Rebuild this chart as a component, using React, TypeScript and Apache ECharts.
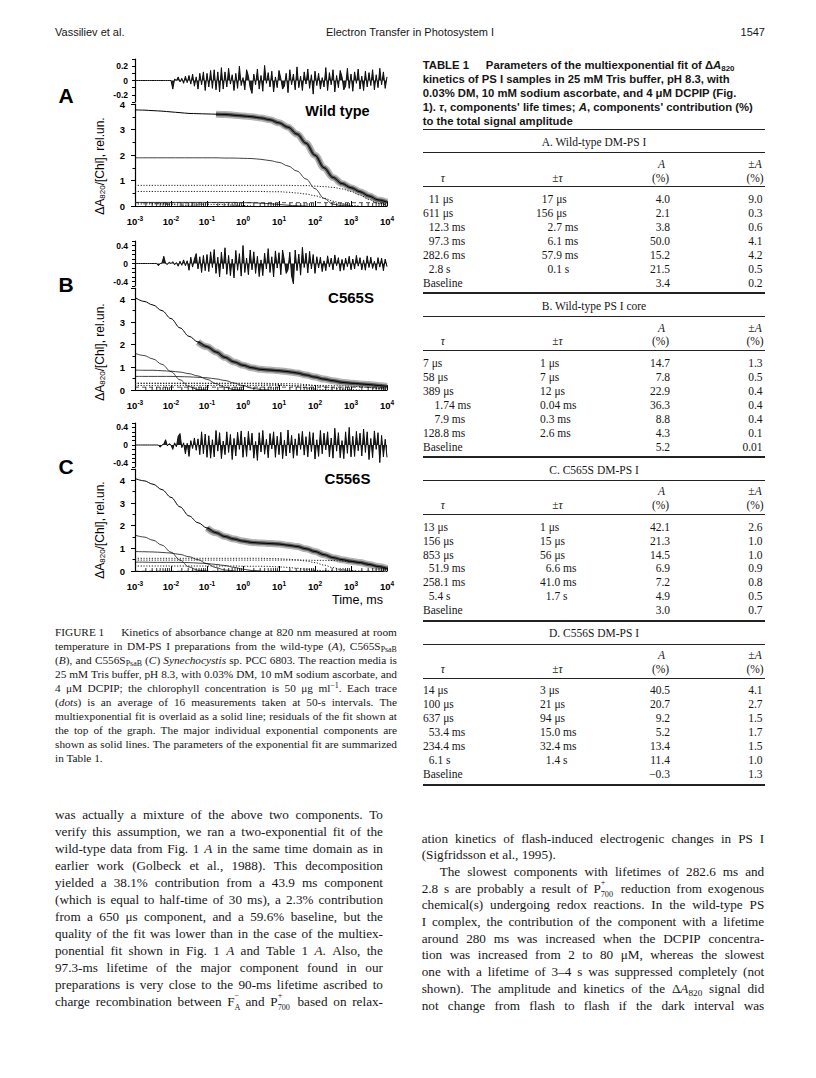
import React, { useEffect, useRef } from 'react';
import * as echarts from 'echarts';

const SANS = '"Liberation Sans", Arial, Helvetica, sans-serif';
const SERIF = '"Liberation Serif", "Times New Roman", Times, serif';

// ---------- axis ticks ----------
const xDecades = [-3, -2, -1, 0, 1, 2, 3, 4]; // log10(time, ms)
const minorFactors = [2, 3, 4, 5, 6, 7, 8, 9];

// ---------- Panel A (wild type) : samples every 0.25 decade from 1e-3 ms ----------
const fitA = [3.77, 3.76, 3.74, 3.72, 3.69, 3.66, 3.63, 3.62, 3.61, 3.60, 3.59, 3.56, 3.53, 3.50, 3.45, 3.38, 3.26, 3.09, 2.82, 2.46, 1.99, 1.50, 1.12, 0.88, 0.72, 0.56, 0.39, 0.24, 0.15];
const majorA = [1.89, 1.89, 1.89, 1.89, 1.89, 1.89, 1.89, 1.89, 1.89, 1.89, 1.88, 1.88, 1.87, 1.86, 1.83, 1.78, 1.71, 1.57, 1.37, 1.06, 0.68, 0.30, 0.07, 0.01, 0];
const smallA = [0.14, 0.14, 0.14, 0.14, 0.14, 0.14, 0.14, 0.14, 0.14, 0.14, 0.14, 0.14, 0.13, 0.13, 0.11, 0.09, 0.06, 0.03, 0.01, 0];
const fastA1 = [0.14, 0.13, 0.11, 0.09, 0.06, 0.03, 0.01, 0];
const fastA2 = [0.08, 0.08, 0.08, 0.08, 0.08, 0.08, 0.08, 0.07, 0.07, 0.06, 0.05, 0.03, 0.02, 0];
const midA = [0.57, 0.57, 0.57, 0.57, 0.57, 0.57, 0.57, 0.57, 0.57, 0.57, 0.57, 0.57, 0.57, 0.57, 0.57, 0.56, 0.56, 0.54, 0.51, 0.47, 0.40, 0.31, 0.19, 0.08, 0.02, 0];
const slowA = [0.81, 0.81, 0.81, 0.81, 0.81, 0.81, 0.81, 0.81, 0.81, 0.81, 0.81, 0.81, 0.81, 0.81, 0.81, 0.81, 0.81, 0.81, 0.80, 0.80, 0.78, 0.76, 0.73, 0.67, 0.57, 0.43, 0.26, 0.11, 0.02];
const baseA = 0.13;
// residuals: samples every 0.05 decade from 1e-3 ms
const residA = [0, 0, 0, 0, 0, 0, 0, 0, 0, 0, 0, 0, 0, 0, 0, 0, 0, 0, 0, 0, 0,
  -0.12, 0.02, 0, 0.05, -0.02, 0.03, -0.04, 0.06, -0.03, 0.07, -0.05, 0.09, -0.08, 0.05, -0.12, 0.1, -0.06, 0.12, -0.14, 0.1, -0.09, 0.14, -0.11, 0.15, -0.13, 0.12, -0.16, 0.18, -0.12,
  0.12, -0.09, 0.17, -0.05, 0.08, -0.14, 0.1, -0.11, 0.2, -0.07,
  0.04, -0.13, 0.15, 0.06, -0.1, -0.18, 0.09, -0.06, 0.16, -0.12,
  0.07, -0.15, 0.21, -0.04, 0.11, -0.09, 0.13, -0.16, 0.05, -0.1,
  0.14, 0.03, -0.12, -0.08, 0.1, -0.17, 0.15, -0.06, 0.09, -0.13,
  0.19, -0.1, 0.06, -0.14, 0.12, -0.05, 0.16, -0.11, 0.08, -0.19,
  0.13, -0.07, 0.1, -0.12, 0.04, -0.09, 0.18, -0.14, 0.11, -0.06,
  0.15, -0.16, 0.07, -0.1, 0.14, 0.05, -0.13, -0.08, 0.17, -0.11,
  0.09, -0.15, 0.12, -0.04, 0.16, -0.12, 0.06, -0.14, 0.13, -0.09,
  0.11, -0.07, 0.15, -0.13, 0.08, -0.1, 0.17, -0.06, 0.12, -0.11,
  0.05];

// ---------- Panel B (C565S) ----------
const fitB = [4.08, 3.91, 3.75, 3.50, 3.15, 2.74, 2.37, 2.12, 1.91, 1.68, 1.44, 1.24, 1.09, 0.98, 0.91, 0.88, 0.85, 0.81, 0.75, 0.66, 0.57, 0.48, 0.41, 0.34, 0.30, 0.27, 0.24, 0.20, 0.16];
const fastB1 = [1.62, 1.52, 1.37, 1.13, 0.81, 0.45, 0.15, 0.02, 0];
const fastB2 = [0.88, 0.87, 0.87, 0.85, 0.83, 0.79, 0.72, 0.62, 0.47, 0.28, 0.12, 0.02, 0];
const fastB3 = [0.60, 0.60, 0.60, 0.60, 0.60, 0.59, 0.58, 0.56, 0.54, 0.49, 0.42, 0.31, 0.19, 0.08, 0.02, 0];
const midB1 = [0.29, 0.29, 0.29, 0.29, 0.29, 0.29, 0.29, 0.29, 0.29, 0.29, 0.28, 0.28, 0.28, 0.28, 0.27, 0.26, 0.24, 0.20, 0.16, 0.10, 0.04, 0.01, 0];
const midB2 = [0.30, 0.30, 0.30, 0.30, 0.30, 0.30, 0.30, 0.30, 0.30, 0.30, 0.30, 0.30, 0.30, 0.30, 0.30, 0.29, 0.29, 0.28, 0.27, 0.24, 0.20, 0.15, 0.09, 0.03, 0.01, 0];
const slowB = [0.20, 0.20, 0.20, 0.20, 0.20, 0.20, 0.20, 0.20, 0.20, 0.20, 0.20, 0.20, 0.20, 0.20, 0.20, 0.20, 0.20, 0.20, 0.20, 0.20, 0.20, 0.20, 0.19, 0.18, 0.17, 0.15, 0.11, 0.07, 0.03];
const baseB = 0.125;
const residB = [0, 0, 0, 0, 0, 0, 0, 0, 0, 0, 0, 0, 0,
  -0.05, 0, 0.01, 0.16, 0, -0.02, 0.03, 0, 0.04, -0.03, 0.02, -0.06, 0.05, -0.04, 0.08, -0.05, 0.06, -0.15, 0.14, -0.08, 0.1, 0.22, -0.12, 0.15, -0.2, 0.18, -0.16, 0.2,
  -0.18, 0.26, -0.09, 0.31, -0.22, 0.14, -0.3, 0.25, -0.12, 0.35,
  -0.24, 0.18, -0.27, 0.1, -0.32, 0.29, -0.15, 0.22, -0.28, 0.4,
  -0.2, 0.12, -0.25, 0.3, -0.14,
  0.26, -0.22, 0.16, -0.29, 0.08, -0.27, 0.23, -0.12, 0.33, -0.2,
  0.15, -0.3, 0.28, -0.1, 0.24, -0.25, 0.3, 0.06, -0.22, -0.14,
  0.25, -0.28, -0.45, 0.3, -0.16, 0.21, -0.26, 0.36, -0.09, 0.23,
  -0.21, 0.27, -0.12, 0.2, -0.22,
  0.15, -0.1, 0.14, -0.18, 0.06, -0.16, 0.17, -0.08, 0.12, -0.14,
  0.19, -0.05, 0.13, -0.17, 0.09, -0.15, 0.12, -0.07, 0.16, -0.14,
  0.1, -0.12, 0.18, -0.06, 0.13, -0.14, 0.08, -0.15, 0.17, -0.09,
  0.14, -0.11, 0.05, -0.15, 0.13, -0.08, 0.12, -0.16, 0.1, -0.07];

// ---------- Panel C (C556S) ----------
const fitC = [4.08, 3.98, 3.83, 3.59, 3.25, 2.83, 2.43, 2.13, 1.90, 1.69, 1.52, 1.41, 1.32, 1.26, 1.23, 1.21, 1.19, 1.14, 1.08, 0.98, 0.86, 0.72, 0.59, 0.50, 0.43, 0.37, 0.29, 0.20, 0.11];
const fastC1 = [1.58, 1.50, 1.36, 1.14, 0.83, 0.48, 0.18, 0.03, 0];
const fastC2 = [0.86, 0.85, 0.84, 0.82, 0.79, 0.73, 0.63, 0.50, 0.32, 0.15, 0.04, 0];
const fastC3 = [0.39, 0.39, 0.38, 0.38, 0.38, 0.38, 0.37, 0.35, 0.33, 0.29, 0.24, 0.16, 0.08, 0.02, 0];
const midC1 = [0.22, 0.22, 0.22, 0.22, 0.22, 0.22, 0.22, 0.22, 0.22, 0.22, 0.22, 0.22, 0.21, 0.21, 0.21, 0.20, 0.18, 0.16, 0.12, 0.08, 0.03, 0.01, 0];
const midC2 = [0.56, 0.56, 0.56, 0.56, 0.56, 0.56, 0.56, 0.56, 0.56, 0.56, 0.56, 0.56, 0.56, 0.56, 0.56, 0.55, 0.54, 0.52, 0.49, 0.44, 0.37, 0.26, 0.15, 0.05, 0.01, 0];
const slowC = [0.48, 0.48, 0.48, 0.48, 0.48, 0.48, 0.48, 0.48, 0.48, 0.48, 0.48, 0.48, 0.48, 0.48, 0.48, 0.48, 0.48, 0.48, 0.48, 0.48, 0.47, 0.47, 0.46, 0.44, 0.41, 0.36, 0.29, 0.19, 0.09];
const baseC = -0.01;
const residC = [0, 0, 0, 0, 0, 0, 0, 0, 0, 0, 0, 0, 0, 0,
  -0.05, 0, 0.02, 0.12, -0.02, 0.03, 0, -0.1, 0.05, -0.04, 0.2, 0.26, -0.06, 0.05, -0.2, 0.04, -0.26, 0.1, -0.08, 0.16, -0.12, 0.14, -0.22, 0.3, -0.2, 0.25, -0.28,
  0.21, -0.3, 0.12, -0.27, 0.33, -0.14, 0.28, -0.31, 0.09, -0.22,
  0.3, -0.17, 0.24, -0.33, 0.15, -0.25, 0.29, -0.1, 0.32, -0.28,
  0.18, -0.26, 0.31, -0.12, 0.27, -0.3, 0.08, -0.35, 0.28, -0.16,
  0.33, -0.21, 0.13, -0.29, 0.26, -0.09, 0.3, -0.28, 0.2, -0.22,
  0.29, -0.31, 0.11, -0.25, 0.34, -0.18, 0.22, -0.3, 0.14, -0.24,
  0.26, -0.1, 0.31, -0.23, 0.19, -0.27, 0.3, -0.15, 0.28, -0.32,
  0.12, -0.26, 0.33, -0.2, 0.27, -0.11, 0.3, -0.27, 0.16, -0.3,
  0.38, -0.14, 0.28, -0.29, 0.1, -0.31, 0.3, -0.19, 0.4, -0.27,
  0.2, -0.26, 0.31, -0.13, 0.27, -0.25, 0.36, -0.17, 0.3, -0.33,
  0.15, -0.29, 0.32, -0.1, 0.28, -0.4, 0.22, -0.27, 0.13, -0.28];

// ---------- Table 1 ----------
const tableSections = [
  { title: 'A. Wild-type DM-PS I', dtLeft: 536,
    tau: ['\u200711 μs', '611 μs', '\u200712.3 ms', '\u200797.3 ms', '282.6 ms', '\u20072.8 s', 'Baseline'],
    dtau: ['\u200717 μs', '156 μs', '\u2007\u20072.7 ms', '\u2007\u20076.1 ms', '\u200757.9 ms', '\u2007\u20070.1 s', ''],
    amp: ['4.0', '2.1', '3.8', '50.0', '15.2', '21.5', '3.4'],
    damp: ['9.0', '0.3', '0.6', '4.1', '4.2', '0.5', '0.2'] },
  { title: 'B. Wild-type PS I core', dtLeft: 540,
    tau: ['7 μs', '58 μs', '389 μs', '\u2007\u20071.74 ms', '\u2007\u20077.9 ms', '128.8 ms', 'Baseline'],
    dtau: ['1 μs', '7 μs', '12 μs', '0.04 ms', '0.3 ms', '2.6 ms', ''],
    amp: ['14.7', '7.8', '22.9', '36.3', '8.8', '4.3', '5.2'],
    damp: ['1.3', '0.5', '0.4', '0.4', '0.4', '0.1', '0.01'] },
  { title: 'C. C565S DM-PS I', dtLeft: 540,
    tau: ['13 μs', '156 μs', '853 μs', '\u200751.9 ms', '258.1 ms', '\u20075.4 s', 'Baseline'],
    dtau: ['1 μs', '15 μs', '56 μs', '\u20076.6 ms', '41.0 ms', '\u20071.7 s', ''],
    amp: ['42.1', '21.3', '14.5', '6.9', '7.2', '4.9', '3.0'],
    damp: ['2.6', '1.0', '1.0', '0.9', '0.8', '0.5', '0.7'] },
  { title: 'D. C556S DM-PS I', dtLeft: 540,
    tau: ['14 μs', '100 μs', '637 μs', '\u200753.4 ms', '234.4 ms', '\u20076.1 s', 'Baseline'],
    dtau: ['3 μs', '21 μs', '94 μs', '15.0 ms', '32.4 ms', '\u20071.4 s', ''],
    amp: ['40.5', '20.7', '9.2', '5.2', '13.4', '11.4', '−0.3'],
    damp: ['4.1', '2.7', '1.5', '1.7', '1.5', '1.0', '1.3'] },
];

const tableTitle = [
  'TABLE\u00a01\u2003\u2002Parameters of the multiexponential fit of Δ*A*_{820}',
  'kinetics of PS I samples in 25 mM Tris buffer, pH 8.3, with',
  '0.03% DM, 10 mM sodium ascorbate, and 4 μM DCPIP (Fig.',
  "1). *τ*, components' life times; *A*, components' contribution (%)",
  'to the total signal amplitude',
];

const caption = [
  'FIGURE\u00a01\u2003\u2002Kinetics of absorbance change at 820 nm measured at room',
  'temperature in DM-PS I preparations from the wild-type (*A*), C565S_{PsaB}',
  '(*B*), and C556S_{PsaB} (*C*) *Synechocystis* sp. PCC 6803. The reaction media is',
  '25 mM Tris buffer, pH 8.3, with 0.03% DM, 10 mM sodium ascorbate, and',
  '4 μM DCPIP; the chlorophyll concentration is 50 μg ml^{−1}. Each trace',
  '(*dots*) is an average of 16 measurements taken at 50-s intervals. The',
  'multiexponential fit is overlaid as a solid line; residuals of the fit shown at',
  'the top of the graph. The major individual exponential components are',
  'shown as solid lines. The parameters of the exponential fit are summarized',
  'in Table 1.',
];

const leftBody = [
  'was actually a mixture of the above two components. To',
  'verify this assumption, we ran a two-exponential fit of the',
  'wild-type data from Fig. 1 *A* in the same time domain as in',
  'earlier work (Golbeck et al., 1988). This decomposition',
  'yielded a 38.1% contribution from a 43.9 ms component',
  '(which is equal to half-time of 30 ms), a 2.3% contribution',
  'from a 650 μs component, and a 59.6% baseline, but the',
  'quality of the fit was lower than in the case of the multiex-',
  'ponential fit shown in Fig. 1 *A* and Table 1 *A*. Also, the',
  '97.3-ms lifetime of the major component found in our',
  'preparations is very close to the 90-ms lifetime ascribed to',
  'charge recombination between F@{−|A} and P@{+|700} based on relax-',
];

const rightBody = [
  'ation kinetics of flash-induced electrogenic changes in PS I',
  '(Sigfridsson et al., 1995).',
  'The slowest components with lifetimes of 282.6 ms and',
  '2.8 s are probably a result of P@{+|700} reduction from exogenous',
  'chemical(s) undergoing redox reactions. In the wild-type PS',
  'I complex, the contribution of the component with a lifetime',
  'around 280 ms was increased when the DCPIP concentra-',
  'tion was increased from 2 to 80 μM, whereas the slowest',
  'one with a lifetime of 3–4 s was suppressed completely (not',
  'shown). The amplitude and kinetics of the Δ*A*_{820} signal did',
  'not change from flash to flash if the dark interval was',
];

// ---------- text helpers ----------
function richNodes(s: string, st: { it: boolean }, kb: string) {
  const parts = s.split(/(\*|_\{[^}]*\}|\^\{[^}]*\}|@\{[^}]*\})/).filter((p) => p !== '');
  const out: any[] = [];
  parts.forEach((p, i) => {
    const k = kb + '-' + i;
    if (p === '*') { st.it = !st.it; return; }
    const base: any = st.it ? { fontStyle: 'italic' } : {};
    if (p.startsWith('_{')) out.push(<span key={k} style={{ ...base, fontSize: '0.7em', position: 'relative', top: '0.3em', lineHeight: 0 }}>{p.slice(2, -1)}</span>);
    else if (p.startsWith('^{')) out.push(<span key={k} style={{ ...base, fontSize: '0.7em', position: 'relative', top: '-0.45em', lineHeight: 0 }}>{p.slice(2, -1)}</span>);
    else if (p.startsWith('@{')) {
      const [a, b] = p.slice(2, -1).split('|');
      const w = Math.max(a.length, b.length) * 0.34 + 0.05;
      out.push(
        <span key={k} style={{ position: 'relative', display: 'inline-block', width: w + 'em', height: '0.7em' }}>
          <span style={{ position: 'absolute', left: 0, top: '-0.55em', fontSize: '0.62em', lineHeight: 1 }}>{a}</span>
          <span style={{ position: 'absolute', left: 0, top: '0.95em', fontSize: '0.62em', lineHeight: 1 }}>{b}</span>
        </span>
      );
    } else out.push(<span key={k} style={base}>{p}</span>);
  });
  return out;
}

function Line({ text, x, y, w, size, family, lh, justify, indent = 0, weight = 'normal' }: any) {
  const st = { it: false };
  const common: any = {
    position: 'absolute', left: x + indent, top: y - lh / 2, height: lh, lineHeight: lh + 'px',
    fontSize: size, fontFamily: family, fontWeight: weight, whiteSpace: 'pre', color: '#161616',
  };
  if (!justify) return <div style={common}>{richNodes(text, st, 'l')}</div>;
  const words = text.split(' ').filter(Boolean);
  return (
    <div style={{ ...common, width: w - indent, display: 'flex', justifyContent: 'space-between', alignItems: 'baseline' }}>
      {words.map((wd: string, i: number) => <span key={i} style={{ whiteSpace: 'nowrap' }}>{richNodes(wd, st, 'w' + i)}</span>)}
    </div>
  );
}

function T({ x, y, a = 'left', size = 11.5, family = SERIF, italic = false, weight = 'normal', children }: any) {
  const tr = a === 'center' ? 'translateX(-50%)' : a === 'right' ? 'translateX(-100%)' : undefined;
  return (
    <div style={{ position: 'absolute', left: x, top: y - 8, height: 16, lineHeight: '16px', transform: tr, whiteSpace: 'pre',
      fontSize: size, fontFamily: family, fontStyle: italic ? 'italic' : 'normal', fontWeight: weight, color: '#161616' }}>{children}</div>
  );
}

function Rule({ y, t = 1 }: any) {
  return <div style={{ position: 'absolute', left: 422.7, width: 342.3, top: y - t / 2, height: t, background: '#222' }} />;
}

// ---------- chart option ----------
function buildOption() {
  const mainGridTops = [104, 288, 469];
  const resGridTops = [59, 241, 423];
  const resHeights = [43, 45, 44];
  const resLims = [0.3, 0.5, 0.5];
  const resLabelAt = [2, 4, 4];
  const mainMax = [4, 4.5, 4.5];

  const grid: any[] = [];
  const xAxis: any[] = [];
  const yAxis: any[] = [];
  for (let p = 0; p < 3; p++) {
    grid.push({ left: 135, width: 252, top: resGridTops[p], height: resHeights[p] });
    grid.push({ left: 135, width: 252, top: mainGridTops[p], height: 102 });
    xAxis.push({ type: 'value', gridIndex: 2 * p, min: -3, max: 4, show: false });
    xAxis.push({
      type: 'value', gridIndex: 2 * p + 1, min: -3, max: 4, interval: 1,
      axisLine: { show: true, onZero: false, lineStyle: { color: '#000', width: 1.2 } },
      axisTick: { show: true, inside: true, length: 5, lineStyle: { color: '#000', width: 1 } },
      splitLine: { show: false },
      axisLabel: {
        show: true, margin: 9,
        formatter: (v: number) => (xDecades.includes(Math.round(v)) ? `{b|10}{s|${Math.round(v)}}` : ''),
        rich: {
          b: { fontSize: 9.5, fontWeight: 'bold', fontFamily: SANS, color: '#000', lineHeight: 13 },
          s: { fontSize: 6.5, fontWeight: 'bold', fontFamily: SANS, color: '#000', lineHeight: 6, verticalAlign: 'top' },
        },
      },
    });
    const lab = resLabelAt[p];
    yAxis.push({
      type: 'value', gridIndex: 2 * p, min: -resLims[p], max: resLims[p], interval: 0.1,
      axisLine: { show: true, onZero: false, lineStyle: { color: '#000', width: 1.2 } },
      axisTick: { show: true, length: 3, lineStyle: { color: '#000', width: 1 } },
      splitLine: { show: false },
      axisLabel: {
        margin: 7, fontSize: 8.5, fontWeight: 'bold', fontFamily: SANS, color: '#000',
        formatter: (v: number) => {
          const r = Math.round(v * 10);
          if (r === lab) return '0.' + lab;
          if (r === 0) return '0';
          if (r === -lab) return '-0.' + lab;
          return '';
        },
      },
    });
    yAxis.push({
      type: 'value', gridIndex: 2 * p + 1, min: 0, max: mainMax[p], interval: 1,
      axisLine: { show: true, onZero: false, lineStyle: { color: '#000', width: 1.2 } },
      axisTick: { show: true, length: 4, lineStyle: { color: '#000', width: 1 } },
      minorTick: { show: true, splitNumber: 2, length: 2.5, lineStyle: { color: '#000', width: 1 } },
      splitLine: { show: false }, minorSplitLine: { show: false },
      axisLabel: { margin: 10, fontSize: 9.5, fontWeight: 'bold', fontFamily: SANS, color: '#000',
        formatter: (v: number) => (Number.isInteger(v) ? String(v) : '') },
    });
  }

  const pts = (arr: number[], from = 0) => arr.map((v, i) => [-3 + 0.25 * i, v]).slice(from);
  const line = (ax: number, data: any[], style: any, z = 3, smooth: any = 0.35) => ({
    type: 'line', xAxisIndex: ax, yAxisIndex: ax, data, symbol: 'none', silent: true, animation: false,
    smooth, smoothMonotone: 'x', lineStyle: style, z,
  });
  const minorPos: number[] = [];
  xDecades.slice(0, -1).forEach((n) => minorFactors.forEach((k) => minorPos.push(n + Math.log10(k))));

  const panels = [
    { fit: fitA, dotsFrom: 9, solid: [majorA, smallA], dotted: [fastA1, fastA2, midA, slowA], base: baseA, resid: residA },
    { fit: fitB, dotsFrom: 7, solid: [fastB1, fastB2, fastB3], dotted: [midB1, midB2, slowB], base: baseB, resid: residB },
    { fit: fitC, dotsFrom: 8, solid: [fastC1, fastC2, fastC3], dotted: [midC1, midC2, slowC], base: baseC, resid: residC },
  ];

  const series: any[] = [];
  panels.forEach((P, p) => {
    const ra = 2 * p, ma = 2 * p + 1;
    series.push({
      ...line(ra, P.resid.map((v, i) => [-3 + 0.05 * i, v]), { color: '#0d0d0d', width: 1 }, 3, false),
      areaStyle: { color: '#141414', opacity: 0.95, origin: 0 },
    });
    series.push(line(ma, pts(P.fit, P.dotsFrom), { color: '#b4b4b4', width: 7 }, 1));
    series.push(line(ma, pts(P.fit, P.dotsFrom), { color: '#555', width: 3.5 }, 2));
    series.push(line(ma, pts(P.fit), { color: '#000', width: 1 }, 4));
    P.solid.forEach((c) => series.push(line(ma, pts(c), { color: '#111', width: 0.8 }, 3)));
    P.dotted.forEach((c) => series.push(line(ma, pts(c), { color: '#222', width: 1, type: [1.2, 1.6] }, 3)));
    series.push(line(ma, [[-3, P.base], [4, P.base]], { color: '#222', width: 0.8, type: [4, 3] }, 3, false));
    series.push({
      type: 'custom', xAxisIndex: ma, yAxisIndex: ma, silent: true, animation: false, z: 5,
      data: minorPos.map((x) => [x, 0]),
      renderItem: (_: any, api: any) => {
        const c = api.coord([api.value(0), api.value(1)]);
        return { type: 'line', shape: { x1: c[0], y1: c[1], x2: c[0], y2: c[1] - 3 }, style: { stroke: '#000', lineWidth: 0.8 } };
      },
    });
  });

  const txt = (x: number, y: number, text: string, size: number, weight = 'bold', extra: any = {}) => ({
    type: 'text', x, y, silent: true,
    style: { text, fontSize: size, fontWeight: weight, fontFamily: SANS, fill: '#000', align: 'center', verticalAlign: 'middle', ...extra },
  });
  const yName = (y: number) => ({
    type: 'text', x: 100, y, rotation: Math.PI / 2, silent: true,
    style: {
      text: 'ΔA{s|820}/[Chl], rel.un.', fontSize: 12, fontFamily: SANS, fill: '#000', align: 'center', verticalAlign: 'middle',
      rich: { s: { fontSize: 8, fontFamily: SANS, fill: '#000', lineHeight: 7, verticalAlign: 'bottom' } },
    },
  });

  const graphic = [
    txt(66, 95, 'A', 21), txt(66, 284, 'B', 21), txt(66, 466, 'C', 21),
    txt(337.5, 110.5, 'Wild type', 14.5), txt(351, 297.7, 'C565S', 15), txt(347.5, 478, 'C556S', 15),
    txt(383, 600, 'Time, ms', 12.5, 'normal', { align: 'right' }),
    yName(166), yName(352), yName(530),
  ];

  return { animation: false, grid, xAxis, yAxis, series, graphic };
}

export default function App() {
  const ref = useRef<HTMLDivElement>(null);
  useEffect(() => {
    document.body.style.margin = '0';
    const chart = echarts.init(ref.current as HTMLDivElement, undefined, { renderer: 'svg' });
    chart.setOption(buildOption() as any);
    return () => chart.dispose();
  }, []);

  const secH = 163.8;
  const tableTop = 129.3;

  return (
    <div style={{ position: 'absolute', left: 0, top: 0, width: 816, height: 1078, background: '#fff', overflow: 'hidden' }}>
      {/* running header */}
      <T x={55} y={32} size={11} family={SANS}>Vassiliev et al.</T>
      <T x={410} y={32} a="center" size={11} family={SANS}>Electron Transfer in Photosystem I</T>
      <T x={765} y={32} a="right" size={11} family={SANS}>1547</T>

      <div ref={ref} style={{ position: 'absolute', left: 0, top: 0, width: 410, height: 620 }} />

      {/* figure caption */}
      {caption.map((t, i) => (
        <Line key={'c' + i} text={t} x={55} y={631.7 + 14 * i} w={342} size={11.3} family={SERIF} lh={14} justify={i < caption.length - 1} />
      ))}

      {/* left body */}
      {leftBody.map((t, i) => (
        <Line key={'lb' + i} text={t} x={55} y={814 + 17 * i} w={328} size={13.2} family={SERIF} lh={17} justify />
      ))}

      {/* right body */}
      {rightBody.map((t, i) => (
        <Line key={'rb' + i} text={t} x={421.7} y={838.3 + 16.67 * i} w={342.6} size={13.2} family={SERIF} lh={17}
          justify={i !== 1} indent={i === 2 ? 18 : 0} />
      ))}

      {/* table title */}
      {tableTitle.map((t, i) => (
        <Line key={'tt' + i} text={t} x={422.7} y={64.8 + 13.95 * i} w={342} size={11.3} family={SANS} weight="bold" lh={14} justify={false} />
      ))}

      {tableSections.map((s, si) => {
        const y0 = tableTop + secH * si;
        return (
          <React.Fragment key={'s' + si}>
            <Rule y={y0} t={si === 0 ? 1.4 : 2} />
            <T x={594} y={y0 + 12.7} a="center">{s.title}</T>
            <Rule y={y0 + 23.3} t={1} />
            <T x={661.5} y={y0 + 34.5} a="center" italic>A</T>
            <T x={755} y={y0 + 34.5} a="center">±<i>A</i></T>
            <T x={442.7} y={y0 + 48.3} a="center" italic>τ</T>
            <T x={557.5} y={y0 + 48.3} a="center">±<i>τ</i></T>
            <T x={660.5} y={y0 + 48.3} a="center">(%)</T>
            <T x={755} y={y0 + 48.3} a="center">(%)</T>
            <Rule y={y0 + 57.5} t={1} />
            {s.tau.map((_, ri) => {
              const y = y0 + 69.7 + 13.95 * ri;
              return (
                <React.Fragment key={'r' + ri}>
                  <T x={423} y={y}>{s.tau[ri]}</T>
                  <T x={s.dtLeft} y={y}>{s.dtau[ri]}</T>
                  <T x={670} y={y} a="right">{s.amp[ri]}</T>
                  <T x={762.5} y={y} a="right">{s.damp[ri]}</T>
                </React.Fragment>
              );
            })}
          </React.Fragment>
        );
      })}
      <Rule y={tableTop + secH * 4} t={2} />
    </div>
  );
}
